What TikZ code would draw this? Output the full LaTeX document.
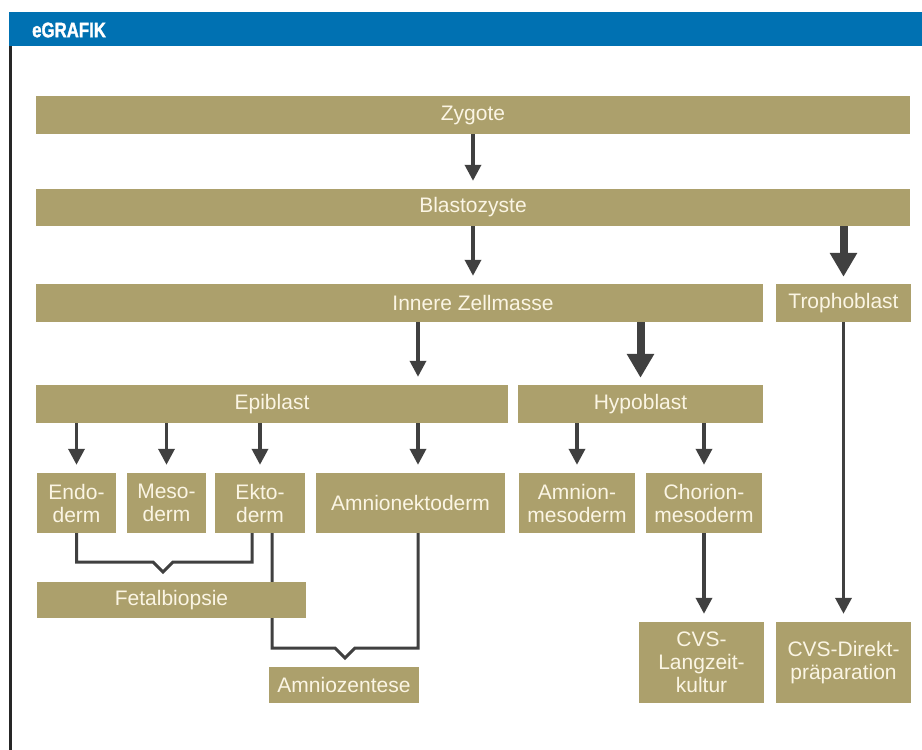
\documentclass[tikz,border=0pt]{standalone}
\usepackage{fontspec}
\setmainfont{Liberation Sans}
\newfontfamily\kopfschrift[FakeStretch=0.8, FakeBold=1.5]{Liberation Sans}
\usetikzlibrary{arrows.meta}
\definecolor{kopfblau}{HTML}{0071B2}
\definecolor{ocker}{HTML}{ACA06C}
\definecolor{creme}{HTML}{FBF5E4}
\definecolor{pfeilgrau}{HTML}{404040}
\begin{document}
\begin{tikzpicture}[x=1pt, y=-1pt,
        feld/.style={fill=ocker, text=creme, inner sep=0pt, align=center, font=\fontsize{21}{23}\selectfont},
        pfeil/.style={draw=pfeilgrau, line width=3.5pt, shorten >=8pt, -{Triangle[length=16pt, width=16pt]}},
        dickpfeil/.style={draw=pfeilgrau, line width=8pt, shorten >=7pt, -{Triangle[length=24pt, width=26pt]}},
        klammer/.style={draw=pfeilgrau, line width=3pt}]
        \useasboundingbox (0,0) rectangle (922,750);
        \fill [kopfblau] (9,12) rectangle (922,46);
        \draw [line width=3pt, black!85] (10.5,46) -- (10.5,750);
        \node [anchor=west, inner sep=0pt, text=white, font=\kopfschrift\bfseries\fontsize{21}{21}\selectfont] (kopf) at (32,30) {eGRAFIK};
        \node [feld, minimum width=874pt, minimum height=38pt] (zygote) at (473,115) {Zygote};
        \node [feld, minimum width=874pt, minimum height=37pt] (blasto) at (473,207.5) {Blastozyste};
        \node [feld, minimum width=727pt, minimum height=38pt] (innere) at (399.5,303) {};
        \node [feld, fill=none] (innerelabel) at (473,303) {Innere Zellmasse};
        \node [feld, minimum width=135pt, minimum height=38pt] (tropho) at (843.5,303) {Trophoblast};
        \node [feld, minimum width=472pt, minimum height=38pt] (epi) at (272,404) {Epiblast};
        \node [feld, minimum width=245pt, minimum height=38pt] (hypo) at (640.5,404) {Hypoblast};
        \node [feld, minimum width=79pt, minimum height=60pt] (endo) at (76.5,503) {Endo-\\derm};
        \node [feld, minimum width=79pt, minimum height=60pt] (meso) at (166.5,503) {Meso-\\derm};
        \node [feld, minimum width=90pt, minimum height=60pt] (ekto) at (260,503) {Ekto-\\derm};
        \node [feld, minimum width=189pt, minimum height=60pt] (amnionekto) at (410.5,503) {Amnionektoderm};
        \node [feld, minimum width=116pt, minimum height=60pt] (amnionmeso) at (577,503) {Amnion-\\mesoderm};
        \node [feld, minimum width=116pt, minimum height=60pt] (chorion) at (704,503) {Chorion-\\mesoderm};
        \node [feld, minimum width=125pt, minimum height=81pt] (cvslang) at (701.5,662.5) {CVS-\\Langzeit-\\kultur};
        \node [feld, minimum width=135pt, minimum height=81pt] (cvsdirekt) at (843.5,662.5) {CVS-Direkt-\\präparation};
        \coordinate (spalte) at (418,0);
        \coordinate (kerbeF) at (163,572);
        \coordinate (kerbeA) at (345,658);
        \draw [pfeil] (zygote) -- (blasto);
        \draw [pfeil] (blasto.south) -- (blasto.south |- innere.north);
        \draw [dickpfeil] (blasto.south -| tropho.north) -- (tropho.north);
        \draw [pfeil] (innere.south -| spalte) -- (epi.north -| spalte);
        \draw [dickpfeil] (innere.south -| hypo.north) -- (hypo.north);
        \draw [pfeil] (epi.south -| endo.north) -- (endo.north);
        \draw [pfeil] (epi.south -| meso.north) -- (meso.north);
        \draw [pfeil] (epi.south -| ekto.north) -- (ekto.north);
        \draw [pfeil] (epi.south -| spalte) -- (amnionekto.north -| spalte);
        \draw [pfeil] (hypo.south -| amnionmeso.north) -- (amnionmeso.north);
        \draw [pfeil] (hypo.south -| chorion.north) -- (chorion.north);
        \draw [pfeil] (chorion.south) -- (chorion.south |- cvslang.north);
        \draw [pfeil] (tropho.south) -- (cvsdirekt.north);
        \draw [klammer] (endo.south) |- (153,562) -- (kerbeF) -- (173,562) -| ([xshift=-8pt]ekto.south);
        \draw [klammer] ([xshift=12pt]ekto.south) |- (335,648) -- (kerbeA) -- (355,648) -| (amnionekto.south -| spalte);
        \node [feld, minimum width=269pt, minimum height=36pt] (fetal) at (171.5,600) {Fetalbiopsie};
        \node [feld, minimum width=150pt, minimum height=36pt] (amniozent) at (344,685) {Amniozentese};
\end{tikzpicture}
\end{document}
